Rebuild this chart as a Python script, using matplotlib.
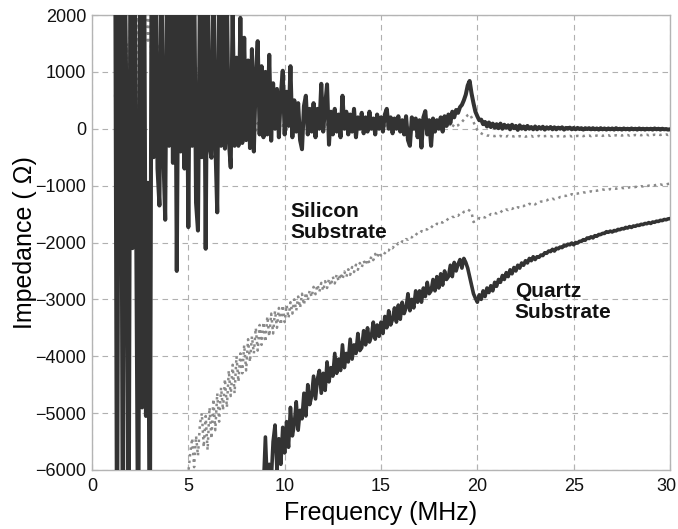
import matplotlib
matplotlib.use('Agg')
import matplotlib.pyplot as plt
import matplotlib.transforms as mtransforms
import numpy as np

plt.rcParams['font.family'] = ['Liberation Sans', 'DejaVu Sans']

# sweep step is 0.1 MHz for every trace
STEP = 0.1

# quartz substrate, real part (starts at 1.2 MHz)
quartz_re_f0 = 1.2
quartz_re = [
    4000, -8000, 4000, 4000, -8000, 3000, 0, -8000,
    4000, -2100, 4000, -2150, -8000, 4000, -4900, 4000, -5050, -950,
    -8000, 4000, -500, 3500, -700, -1350, 3000, -400, -1600, 3200,
    -300, 2800, -600, 3500, -2500, 2600, -400, 3000, -700, 2500,
    -1730, 2800, -300, 3000, -1300, -1790, 2500, -500, 2900, -2110,
    2700, -300, -510, 3000, -200, -1470, 2600, -300, 2300, -350,
    2400, -200, -680, 2100, -300, 1250, -300, 1950, -250, 1600,
    -200, 1200, -340, 1400, -400, 900, 1540, -100, 1100, -150,
    1000, -100, 1300, -210, 800, 0, 700, -150, 600, 1020,
    -100, 650, 50, 1100, -150, 500, -50, 450, -200, -360,
    400, 580, -100, 350, -50, 450, -150, 350, 0, 790,
    -50, 400, 780, -280, 300, -100, 350, -50, 250, -150,
    580, 0, 300, -100, 250, -50, 350, -150, 200, 0,
    280, -80, 200, -50, 300, 0, 180, -100, 250, 0,
    200, -50, 250, 350, 0, 200, -80, 180, 0, 220,
    -50, 150, -100, 220, -200, -300, 200, 0, 180, -150,
    150, -330, 200, 310, -100, 150, -300, 180, -50, 150,
    0, 200, -50, 220, 50, 250, 100, 300, 200, 330,
    280, 380, 420, 500, 600, 760, 840, 620, 450, 300,
    220, 150, 160, 80, 120, 40, 110, 30, 90, 20,
    80, 10, 90, 0, 70, 20, 60, -10, 70, 10,
    50, -20, 60, 0, 40, -10, 50, 0, 30, -10,
    40, -10, 30, 0, 35, -15, 25, 0, 30, -10,
    25, -10, 20, 0, 25, -15, 15, 0, 20, -10,
    15, -10, 15, -5, 10, -15, 10, -5, 10, -10,
    10, -10, 5, -15, 10, -10, 5, -15, 5, -10,
    5, -15, 10, -10, 0, -15, 5, -10, 0, -15,
    5, -10, 0, -15, 5, -10, 0, -15, 0, -10,
    0, -15, 5, -10, 0, -15, 0, -10, -5, -15,
    -10,
]

# silicon substrate, real part (starts at 1.2 MHz)
silicon_re_f0 = 1.2
silicon_re = [
    600, -800, 500, -700, 900, -300, 1500, -500,
    2500, -600, 1800, -400, 2200, 300, 2500, 1900, 2600, 1500,
    2400, 800, 2000, 600, 1500, 300, 1800, 500, 1200, 400,
    1300, 200, 1100, 400, 1200, 100, 1000, 300, 1400, 500,
    1200, 200, 900, 300, 1100, 100, 800, 200, 700, 0,
    900, 100, 700, 200, 800, 150, 600, 700, 150, 500,
    100, 400, 0, 300, -50, 250, 0, 200, -50, 150,
    100, -50, 150, 0, 120, -30, 100, 0, 80, -20,
    150, 20, 120, -40, 100, 30, 140, 0, 90, 50,
    120, -20, 100, 60, 150, 0, 90, -30, 110, 20,
    80, 150, 0, 100, -40, 90, 20, 130, -10, 80,
    100, 0, 70, 130, -20, 60, 10, 90, -30, 70,
    40, 110, 0, 80, -20, 60, 30, 90, -10, 50,
    80, 0, 60, -20, 90, 10, 50, -30, 70, 20,
    60, -10, 90, 20, 40, -20, 70, 0, 50, 10,
    40, -30, 60, 0, 50, -40, 30, 10, 60, -20,
    50, -10, 40, 20, 60, -20, 30, 0, 50, 20,
    60, 0, 80, 20, 70, 10, 90, 30, 80, 50,
    60, 100, 120, 160, 200, 240, 260, 200, 120, 40,
    -20, -60, -80, -100, -110, -120, -120, -130, -125, -130,
    -120, -135, -125, -140, -130, -135, -125, -140, -130, -135,
    -125, -140, -130, -135, -125, -140, -130, -135, -125, -140,
    -130, -135, -125, -140, -130, -130, -125, -135, -130, -135,
    -125, -135, -130, -130, -125, -135, -125, -130, -125, -135,
    -120, -130, -125, -130, -120, -130, -120, -125, -120, -130,
    -115, -125, -120, -125, -115, -125, -115, -120, -115, -125,
    -110, -120, -115, -120, -110, -120, -110, -115, -110, -120,
    -105, -115, -110, -115, -105, -115, -105, -110, -105, -115,
    -100, -110, -105, -110, -100, -110, -100, -105, -100, -110,
    -100,
]

# silicon substrate, imaginary part (starts at 4.9 MHz)
silicon_im_f0 = 4.9
silicon_im = [
    -6100,
    -6050, -5700, -5440, -5950, -5400, -5750, -5200, -5000, -5600, -5050,
    -5650, -4900, -5450, -4750, -5300, -4650, -5150, -4550, -4950, -4400,
    -4900, -4250, -4700, -4150, -4650, -4000, -4450, -3950, -4300, -3800,
    -4250, -3700, -4100, -3650, -3950, -3500, -3900, -3450, -3800, -3400,
    -3750, -3300, -3650, -3250, -3600, -3200, -3500, -3150, -3450, -3100,
    -3400, -3100, -3330, -3050, -3250, -3000, -3200, -2950, -3150, -2900,
    -3100, -2880, -3020, -2840, -2960, -2780, -2910, -2740, -2870, -2710,
    -2850, -2680, -2800, -2640, -2760, -2600, -2720, -2560, -2680, -2540,
    -2650, -2510, -2610, -2470, -2570, -2430, -2520, -2390, -2480, -2360,
    -2440, -2320, -2400, -2290, -2360, -2240, -2310, -2200, -2270, -2170,
    -2230, -2170, -2190, -2130, -2140, -2080, -2100, -2050, -2060, -2010,
    -2030, -1980, -1990, -1940, -1950, -1900, -1910, -1860, -1870, -1830,
    -1840, -1800, -1810, -1770, -1770, -1730, -1740, -1700, -1710, -1670,
    -1680, -1640, -1650, -1610, -1610, -1580, -1580, -1550, -1550, -1520,
    -1530, -1490, -1500, -1460, -1450, -1420, -1440, -1470, -1640, -1620,
    -1610, -1570, -1580, -1550, -1560, -1530, -1530, -1500, -1510, -1480,
    -1490, -1460, -1470, -1440, -1450, -1420, -1430, -1400, -1410, -1390,
    -1410, -1380, -1390, -1360, -1360, -1340, -1350, -1320, -1330, -1310,
    -1330, -1300, -1300, -1280, -1280, -1260, -1260, -1240, -1250, -1230,
    -1240, -1220, -1220, -1200, -1200, -1180, -1180, -1160, -1170, -1150,
    -1160, -1140, -1140, -1130, -1130, -1120, -1120, -1110, -1110, -1100,
    -1110, -1090, -1090, -1080, -1080, -1070, -1070, -1060, -1070, -1060,
    -1065, -1050, -1055, -1045, -1050, -1040, -1045, -1035, -1040, -1030,
    -1035, -1025, -1025, -1015, -1020, -1010, -1015, -1005, -1010, -1000,
    -1005, -995, -995, -985, -990, -980, -985, -975, -980, -970,
    -965,
]

# quartz substrate, imaginary part (starts at 8.9 MHz)
quartz_im_f0 = 8.9
quartz_im = [
    -6300,
    -5420, -6300, -5900, -6200, -5500, -5210, -6000, -5450, -5900, -5250,
    -5700, -5150, -5600, -4900, -5400, -5200, -4800, -5300, -4950, -5100,
    -4650, -5050, -4500, -4850, -4700, -4350, -4750, -4400, -4250, -4650,
    -4300, -4600, -4100, -4450, -4200, -4350, -3950, -4300, -4050, -4250,
    -3800, -4200, -3950, -4100, -3700, -4050, -3800, -3950, -3600, -3900,
    -3850, -3550, -3800, -3500, -3750, -3650, -3400, -3700, -3450, -3650,
    -3400, -3600, -3300, -3500, -3200, -3450, -3350, -3150, -3400, -3100,
    -3350, -3050, -3250, -3150, -2900, -3200, -3000, -3150, -2850, -3050,
    -2850, -3050, -2800, -2950, -2700, -2900, -2850, -2650, -2850, -2600,
    -2800, -2550, -2750, -2500, -2650, -2600, -2400, -2600, -2350, -2500,
    -2380, -2300, -2450, -2280, -2350, -2450, -2600, -2750, -2900, -2980,
    -3050, -2920, -3000, -2850, -2950, -2800, -2880, -2760, -2850, -2700,
    -2770, -2650, -2700, -2580, -2650, -2530, -2600, -2480, -2550, -2440,
    -2500, -2400, -2450, -2360, -2400, -2320, -2360, -2280, -2320, -2250,
    -2300, -2250, -2260, -2220, -2230, -2180, -2190, -2150, -2160, -2120,
    -2150, -2100, -2110, -2080, -2090, -2050, -2060, -2030, -2040, -2010,
    -2040, -2000, -2010, -1980, -1980, -1950, -1960, -1920, -1930, -1900,
    -1920, -1880, -1890, -1860, -1860, -1840, -1840, -1810, -1820, -1800,
    -1815, -1790, -1795, -1770, -1775, -1755, -1760, -1735, -1745, -1720,
    -1735, -1710, -1715, -1695, -1700, -1680, -1685, -1665, -1670, -1650,
    -1665, -1640, -1645, -1625, -1630, -1610, -1615, -1595, -1600, -1585,
    -1580,
]

x_ticks = [0, 5, 10, 15, 20, 25, 30]
y_ticks = [-6000, -5000, -4000, -3000, -2000, -1000, 0, 1000, 2000]


def sweep(f0, vals):
    return f0 + STEP * np.arange(len(vals)), np.array(vals, dtype=float)


dark = '#333333'
grey = '#8a8a8a'
frame = '#b4b4b4'

fig = plt.figure(figsize=(6.78, 5.29), dpi=100)
ax = fig.add_axes([92 / 678, 1 - 470 / 529, 578 / 678, 455 / 529])

# silicon traces first, quartz on top
f, v = sweep(silicon_re_f0, silicon_re)
ax.plot(f, v, color=grey, lw=1.8, ls=':', zorder=2)
f, v = sweep(silicon_im_f0, silicon_im)
ax.plot(f, v, color=grey, lw=1.8, ls=':', zorder=2)
f, v = sweep(quartz_re_f0, quartz_re)
ax.plot(f, v, color=dark, lw=2.9, zorder=3)
f, v = sweep(quartz_im_f0, quartz_im)
ax.plot(f, v, color=dark, lw=2.6, zorder=3)

ax.set_xlim(0, 30)
ax.set_ylim(-6000, 2000)
ax.set_xticks(x_ticks)
ax.set_yticks(y_ticks)
ax.grid(True, ls=(0, (5, 4)), color='#b0b0b0', lw=0.8, zorder=0)
ax.set_axisbelow(True)
for s in ax.spines.values():
    s.set_color(frame)
    s.set_linewidth(1.0)
ax.tick_params(direction='in', length=4, color=frame, labelsize=13,
               labelcolor='#111111')
ax.tick_params(axis='x', pad=6)
ax.tick_params(axis='y', pad=4)

# keep the last frequency label inside the canvas
last = ax.get_xticklabels()[-1]
last.set_transform(last.get_transform() +
                   mtransforms.ScaledTranslation(-4 / 100, 0, fig.dpi_scale_trans))

ax.set_xlabel('Frequency (MHz)', fontsize=18, labelpad=4)
ax.set_ylabel('Impedance ( \u03a9)', fontsize=18, labelpad=-1)

ax.text(10.3, -1290, 'Silicon\nSubstrate', fontsize=15, fontweight='bold',
        va='top', ha='left', linespacing=1.15, color='#111111')
ax.text(21.95, -2690, 'Quartz\nSubstrate', fontsize=15, fontweight='bold',
        va='top', ha='left', linespacing=1.15, color='#111111')

fig.savefig('out.png', dpi=100)
